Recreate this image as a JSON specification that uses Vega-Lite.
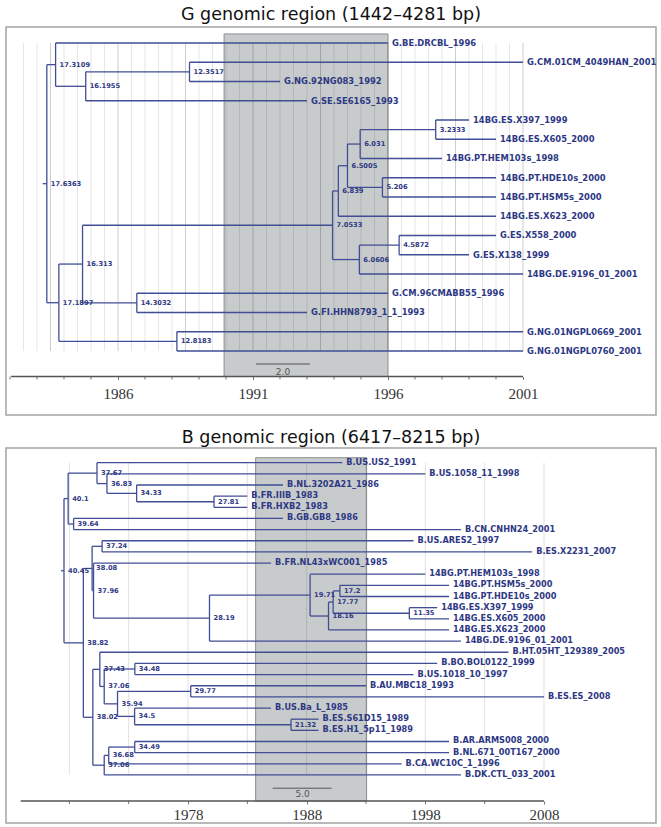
{
"$schema": "https://vega.github.io/schema/vega-lite/v6.json",
"padding": {"left": 5, "top": 4, "right": 0, "bottom": 0},
"spacing": 11,
"background": "white",
"config": {"view": {"stroke": "#a3a3a3", "strokeWidth": 1.5}},
"vconcat": [
{
"width": 650, "height": 388,
"title": {"text": "G genomic region (1442–4281 bp)", "font": "DejaVu Sans", "fontSize": 17.5, "fontWeight": "normal", "color": "#111111", "offset": 4},
"layer": [
{"data": {"values": [{"x": 1989.93, "x2": 1996, "y": -0.47, "y2": 17.325}]},
 "mark": {"type": "rect", "fill": "#c7cbcb", "stroke": "#8c8f8f", "strokeWidth": 1},
 "encoding": {
  "x": {"field": "x", "type": "quantitative", "scale": {"domain": [1981.852, 2005.926], "nice": false, "zero": false},
        "axis": {"values": [1986,1991,1996,2001], "format": "d", "domain": false, "grid": false, "tickSize": 3, "tickColor": "#777777", "labelFont": "Liberation Serif", "labelFontSize": 15, "labelColor": "#333333", "labelPadding": 7, "offset": -38.5, "title": null, "labelOverlap": false, "labelFlush": false}},
  "x2": {"field": "x2"},
  "y": {"field": "y", "type": "quantitative", "scale": {"domain": [-0.831, 19.325], "reverse": true, "nice": false, "zero": false}, "axis": null},
  "y2": {"field": "y2"}
 }},
{"data": {"values": [{"g":1982.5},{"g":1983},{"g":1984},{"g":1984.5},{"g":1985},{"g":1985.5},{"g":1986.5},{"g":1987},{"g":1987.5},{"g":1988},{"g":1989},{"g":1989.5},{"g":1990},{"g":1990.5},{"g":1991.5},{"g":1992},{"g":1992.5},{"g":1993},{"g":1994},{"g":1994.5},{"g":1995},{"g":1995.5},{"g":1996.5},{"g":1997},{"g":1997.5},{"g":1998},{"g":1999},{"g":1999.5},{"g":2000},{"g":2000.5}]},
 "mark": {"type": "rule", "color": "#000000", "opacity": 0.1, "strokeWidth": 1},
 "encoding": {"x": {"field": "g", "type": "quantitative"}, "y": {"datum": 0}, "y2": {"datum": 16}}},
{"data": {"values": [{"g":1983.5},{"g":1986},{"g":1988.5},{"g":1991},{"g":1993.5},{"g":1996},{"g":1998.5},{"g":2001}]},
 "mark": {"type": "rule", "color": "#000000", "opacity": 0.2, "strokeWidth": 1},
 "encoding": {"x": {"field": "g", "type": "quantitative"}, "y": {"datum": 0}, "y2": {"datum": 16}}},
{"data": {"values": [{"g":1982},{"g":1983},{"g":1984},{"g":1985},{"g":1987},{"g":1988},{"g":1989},{"g":1990},{"g":1992},{"g":1993},{"g":1994},{"g":1995},{"g":1997},{"g":1998},{"g":1999},{"g":2000}]},
 "mark": {"type": "rule", "color": "#777777", "strokeWidth": 1},
 "encoding": {"x": {"field": "g", "type": "quantitative"}, "y": {"datum": 17.325}, "y2": {"datum": 17.48}}},
{"data": {"values": [
 {"x":1983.3637,"x2":1983.3637,"y":1.125,"y2":13.4922},
 {"x":1983.6891,"x2":1983.6891,"y":0,"y2":2.25},
 {"x":1984.8045,"x2":1984.8045,"y":1.5,"y2":3},
 {"x":1988.6483,"x2":1988.6483,"y":1,"y2":2},
 {"x":1983.8103,"x2":1983.8103,"y":11.4844,"y2":15.5},
 {"x":1984.687,"x2":1984.687,"y":9.4688,"y2":13.5},
 {"x":1993.9467,"x2":1993.9467,"y":7.6875,"y2":11.25},
 {"x":1994.161,"x2":1994.161,"y":6.375,"y2":9},
 {"x":1994.4995,"x2":1994.4995,"y":5.25,"y2":7.5},
 {"x":1994.969,"x2":1994.969,"y":4.5,"y2":6},
 {"x":1997.7667,"x2":1997.7667,"y":4,"y2":5},
 {"x":1995.794,"x2":1995.794,"y":7,"y2":8},
 {"x":1994.9394,"x2":1994.9394,"y":10.5,"y2":12},
 {"x":1996.4128,"x2":1996.4128,"y":10,"y2":11},
 {"x":1986.6968,"x2":1986.6968,"y":13,"y2":14},
 {"x":1988.1817,"x2":1988.1817,"y":15,"y2":16},
 {"x":1983.21,"x2":1983.3637,"y":7.3086,"y2":7.3086},
 {"x":1983.3637,"x2":1983.6891,"y":1.125,"y2":1.125},
 {"x":1983.3637,"x2":1983.8103,"y":13.4922,"y2":13.4922},
 {"x":1983.6891,"x2":1996,"y":0,"y2":0},
 {"x":1983.6891,"x2":1984.8045,"y":2.25,"y2":2.25},
 {"x":1984.8045,"x2":1988.6483,"y":1.5,"y2":1.5},
 {"x":1984.8045,"x2":1993,"y":3,"y2":3},
 {"x":1988.6483,"x2":2001,"y":1,"y2":1},
 {"x":1988.6483,"x2":1992,"y":2,"y2":2},
 {"x":1983.8103,"x2":1984.687,"y":11.4844,"y2":11.4844},
 {"x":1983.8103,"x2":1988.1817,"y":15.5,"y2":15.5},
 {"x":1984.687,"x2":1993.9467,"y":9.4688,"y2":9.4688},
 {"x":1984.687,"x2":1986.6968,"y":13.5,"y2":13.5},
 {"x":1993.9467,"x2":1994.161,"y":7.6875,"y2":7.6875},
 {"x":1993.9467,"x2":1994.9394,"y":11.25,"y2":11.25},
 {"x":1994.161,"x2":1994.4995,"y":6.375,"y2":6.375},
 {"x":1994.161,"x2":2000,"y":9,"y2":9},
 {"x":1994.4995,"x2":1994.969,"y":5.25,"y2":5.25},
 {"x":1994.4995,"x2":1995.794,"y":7.5,"y2":7.5},
 {"x":1994.969,"x2":1997.7667,"y":4.5,"y2":4.5},
 {"x":1994.969,"x2":1998,"y":6,"y2":6},
 {"x":1997.7667,"x2":1999,"y":4,"y2":4},
 {"x":1997.7667,"x2":2000,"y":5,"y2":5},
 {"x":1995.794,"x2":2000,"y":7,"y2":7},
 {"x":1995.794,"x2":2000,"y":8,"y2":8},
 {"x":1994.9394,"x2":1996.4128,"y":10.5,"y2":10.5},
 {"x":1994.9394,"x2":2001,"y":12,"y2":12},
 {"x":1996.4128,"x2":2000,"y":10,"y2":10},
 {"x":1996.4128,"x2":1999,"y":11,"y2":11},
 {"x":1986.6968,"x2":1996,"y":13,"y2":13},
 {"x":1986.6968,"x2":1993,"y":14,"y2":14},
 {"x":1988.1817,"x2":2001,"y":15,"y2":15},
 {"x":1988.1817,"x2":2001,"y":16,"y2":16}
 ]},
 "mark": {"type": "rule", "color": "#414e96", "strokeWidth": 1.3},
 "encoding": {"x": {"field": "x", "type": "quantitative"}, "x2": {"field": "x2"}, "y": {"field": "y", "type": "quantitative"}, "y2": {"field": "y2"}}},
{"data": {"values": [{"x": 1982.04, "x2": 2001, "y": 17.325}]},
 "mark": {"type": "rule", "color": "#555555", "strokeWidth": 1.5},
 "encoding": {"x": {"field": "x", "type": "quantitative"}, "x2": {"field": "x2"}, "y": {"field": "y", "type": "quantitative"}}},
{"data": {"values": [{"x": 1991.11, "x2": 1993.11, "y": 16.675}]},
 "mark": {"type": "rule", "color": "#555555", "strokeWidth": 1},
 "encoding": {"x": {"field": "x", "type": "quantitative"}, "x2": {"field": "x2"}, "y": {"field": "y", "type": "quantitative"}}},
{"data": {"values": [{"x": 1992.11, "y": 17.09, "t": "2.0"}]},
 "mark": {"type": "text", "font": "DejaVu Sans", "fontSize": 9, "color": "#555555", "baseline": "middle", "align": "center"},
 "encoding": {"x": {"field": "x", "type": "quantitative"}, "y": {"field": "y", "type": "quantitative"}, "text": {"field": "t"}}},
{"data": {"values": [
 {"x":1996,"y":0,"t":"G.BE.DRCBL_1996"},
 {"x":2001,"y":1,"t":"G.CM.01CM_4049HAN_2001"},
 {"x":1992,"y":2,"t":"G.NG.92NG083_1992"},
 {"x":1993,"y":3,"t":"G.SE.SE6165_1993"},
 {"x":1999,"y":4,"t":"14BG.ES.X397_1999"},
 {"x":2000,"y":5,"t":"14BG.ES.X605_2000"},
 {"x":1998,"y":6,"t":"14BG.PT.HEM103s_1998"},
 {"x":2000,"y":7,"t":"14BG.PT.HDE10s_2000"},
 {"x":2000,"y":8,"t":"14BG.PT.HSM5s_2000"},
 {"x":2000,"y":9,"t":"14BG.ES.X623_2000"},
 {"x":2000,"y":10,"t":"G.ES.X558_2000"},
 {"x":1999,"y":11,"t":"G.ES.X138_1999"},
 {"x":2001,"y":12,"t":"14BG.DE.9196_01_2001"},
 {"x":1996,"y":13,"t":"G.CM.96CMABB55_1996"},
 {"x":1993,"y":14,"t":"G.FI.HHN8793_1_1_1993"},
 {"x":2001,"y":15,"t":"G.NG.01NGPL0669_2001"},
 {"x":2001,"y":16,"t":"G.NG.01NGPL0760_2001"}
 ]},
 "mark": {"type": "text", "font": "DejaVu Sans", "fontWeight": "bold", "fontSize": 8.4, "color": "#2e3884", "baseline": "middle", "align": "left", "dx": 4},
 "encoding": {"x": {"field": "x", "type": "quantitative"}, "y": {"field": "y", "type": "quantitative"}, "text": {"field": "t"}}},
{"data": {"values": [
 {"x":1983.3637,"y":7.3086,"t":"17.6363"},
 {"x":1983.6891,"y":1.125,"t":"17.3109"},
 {"x":1984.8045,"y":2.25,"t":"16.1955"},
 {"x":1988.6483,"y":1.5,"t":"12.3517"},
 {"x":1983.8103,"y":13.4922,"t":"17.1897"},
 {"x":1984.687,"y":11.4844,"t":"16.313"},
 {"x":1993.9467,"y":9.4688,"t":"7.0533"},
 {"x":1994.161,"y":7.6875,"t":"6.839"},
 {"x":1994.4995,"y":6.375,"t":"6.5005"},
 {"x":1994.969,"y":5.25,"t":"6.031"},
 {"x":1997.7667,"y":4.5,"t":"3.2333"},
 {"x":1995.794,"y":7.5,"t":"5.206"},
 {"x":1994.9394,"y":11.25,"t":"6.0606"},
 {"x":1996.4128,"y":10.5,"t":"4.5872"},
 {"x":1986.6968,"y":13.5,"t":"14.3032"},
 {"x":1988.1817,"y":15.5,"t":"12.8183"}
 ]},
 "mark": {"type": "text", "font": "DejaVu Sans", "fontWeight": "bold", "fontSize": 6.7, "color": "#2e3884", "baseline": "middle", "align": "left", "dx": 4},
 "encoding": {"x": {"field": "x", "type": "quantitative"}, "y": {"field": "y", "type": "quantitative"}, "text": {"field": "t"}}}
]
},
{
"width": 650, "height": 375,
"title": {"text": "B genomic region (6417–8215 bp)", "font": "DejaVu Sans", "fontSize": 17.5, "fontWeight": "normal", "color": "#111111", "offset": 2},
"layer": [
{"data": {"values": [{"x": 1983.7, "x2": 1993.05, "y": -0.45, "y2": 30.34}]},
 "mark": {"type": "rect", "fill": "#c7cbcb", "stroke": "#8c8f8f", "strokeWidth": 1},
 "encoding": {
  "x": {"field": "x", "type": "quantitative", "scale": {"domain": [1962.663, 2017.437], "nice": false, "zero": false},
        "axis": {"values": [1978,1988,1998,2008], "format": "d", "domain": false, "grid": false, "tickSize": 3, "tickColor": "#777777", "labelFont": "Liberation Serif", "labelFontSize": 15, "labelColor": "#333333", "labelPadding": 3, "offset": -22, "title": null, "labelOverlap": false, "labelFlush": false}},
  "x2": {"field": "x2"},
  "y": {"field": "y", "type": "quantitative", "scale": {"domain": [-1.318, 32.31], "reverse": true, "nice": false, "zero": false}, "axis": null},
  "y2": {"field": "y2"}
 }},
{"data": {"values": [{"g":1968},{"g":1973},{"g":1978},{"g":1983},{"g":1988},{"g":1993},{"g":1998},{"g":2003},{"g":2008}]},
 "mark": {"type": "rule", "color": "#000000", "opacity": 0.12, "strokeWidth": 1},
 "encoding": {"x": {"field": "g", "type": "quantitative"}, "y": {"datum": 0}, "y2": {"datum": 28}}},
{"data": {"values": [{"g":1968},{"g":1973},{"g":1983},{"g":1993},{"g":2003}]},
 "mark": {"type": "rule", "color": "#777777", "strokeWidth": 1},
 "encoding": {"x": {"field": "g", "type": "quantitative"}, "y": {"datum": 30.34}, "y2": {"datum": 30.61}}},
{"data": {"values": [
 {"x":1967.55,"x2":1967.55,"y":3.2188,"y2":16.1563},
 {"x":1967.9,"x2":1967.9,"y":0.9375,"y2":5.5},
 {"x":1970.33,"x2":1970.33,"y":0,"y2":1.875},
 {"x":1971.17,"x2":1971.17,"y":1,"y2":2.75},
 {"x":1973.67,"x2":1973.67,"y":2,"y2":3.5},
 {"x":1980.19,"x2":1980.19,"y":3,"y2":4},
 {"x":1968.36,"x2":1968.36,"y":5,"y2":6},
 {"x":1969.18,"x2":1969.18,"y":9.4844,"y2":22.8281},
 {"x":1969.92,"x2":1969.92,"y":7.5,"y2":11.4688},
 {"x":1970.76,"x2":1970.76,"y":7,"y2":8},
 {"x":1970.04,"x2":1970.04,"y":9,"y2":13.9375},
 {"x":1979.81,"x2":1979.81,"y":11.875,"y2":16},
 {"x":1988.29,"x2":1988.29,"y":10,"y2":13.75},
 {"x":1989.84,"x2":1989.84,"y":12.5,"y2":15},
 {"x":1990.23,"x2":1990.23,"y":11.5,"y2":13.5},
 {"x":1990.8,"x2":1990.8,"y":11,"y2":12},
 {"x":1996.65,"x2":1996.65,"y":13,"y2":14},
 {"x":1969.98,"x2":1969.98,"y":18.5313,"y2":27.125},
 {"x":1970.57,"x2":1970.57,"y":17,"y2":20.0625},
 {"x":1970.94,"x2":1970.94,"y":18.5,"y2":21.625},
 {"x":1973.52,"x2":1973.52,"y":18,"y2":19},
 {"x":1972.06,"x2":1972.06,"y":20.5,"y2":22.75},
 {"x":1978.23,"x2":1978.23,"y":20,"y2":21},
 {"x":1973.5,"x2":1973.5,"y":22,"y2":23.5},
 {"x":1986.68,"x2":1986.68,"y":23,"y2":24},
 {"x":1970.94,"x2":1970.94,"y":26.25,"y2":28},
 {"x":1971.32,"x2":1971.32,"y":25.5,"y2":27},
 {"x":1973.51,"x2":1973.51,"y":25,"y2":26},
 {"x":1967.3,"x2":1967.55,"y":9.6875,"y2":9.6875},
 {"x":1967.55,"x2":1967.9,"y":3.2188,"y2":3.2188},
 {"x":1967.55,"x2":1969.18,"y":16.1563,"y2":16.1563},
 {"x":1967.9,"x2":1970.33,"y":0.9375,"y2":0.9375},
 {"x":1967.9,"x2":1968.36,"y":5.5,"y2":5.5},
 {"x":1970.33,"x2":1991,"y":0,"y2":0},
 {"x":1970.33,"x2":1971.17,"y":1.875,"y2":1.875},
 {"x":1971.17,"x2":1998,"y":1,"y2":1},
 {"x":1971.17,"x2":1973.67,"y":2.75,"y2":2.75},
 {"x":1973.67,"x2":1986,"y":2,"y2":2},
 {"x":1973.67,"x2":1980.19,"y":3.5,"y2":3.5},
 {"x":1980.19,"x2":1983,"y":3,"y2":3},
 {"x":1980.19,"x2":1983,"y":4,"y2":4},
 {"x":1968.36,"x2":1986,"y":5,"y2":5},
 {"x":1968.36,"x2":2001,"y":6,"y2":6},
 {"x":1969.18,"x2":1969.92,"y":9.4844,"y2":9.4844},
 {"x":1969.18,"x2":1969.98,"y":22.8281,"y2":22.8281},
 {"x":1969.92,"x2":1970.76,"y":7.5,"y2":7.5},
 {"x":1969.92,"x2":1970.04,"y":11.4688,"y2":11.4688},
 {"x":1970.76,"x2":1997,"y":7,"y2":7},
 {"x":1970.76,"x2":2007,"y":8,"y2":8},
 {"x":1970.04,"x2":1985,"y":9,"y2":9},
 {"x":1970.04,"x2":1979.81,"y":13.9375,"y2":13.9375},
 {"x":1979.81,"x2":1988.29,"y":11.875,"y2":11.875},
 {"x":1979.81,"x2":2001,"y":16,"y2":16},
 {"x":1988.29,"x2":1998,"y":10,"y2":10},
 {"x":1988.29,"x2":1989.84,"y":13.75,"y2":13.75},
 {"x":1989.84,"x2":1990.23,"y":12.5,"y2":12.5},
 {"x":1989.84,"x2":2000,"y":15,"y2":15},
 {"x":1990.23,"x2":1990.8,"y":11.5,"y2":11.5},
 {"x":1990.23,"x2":1996.65,"y":13.5,"y2":13.5},
 {"x":1990.8,"x2":2000,"y":11,"y2":11},
 {"x":1990.8,"x2":2000,"y":12,"y2":12},
 {"x":1996.65,"x2":1999,"y":13,"y2":13},
 {"x":1996.65,"x2":2000,"y":14,"y2":14},
 {"x":1969.98,"x2":1970.57,"y":18.5313,"y2":18.5313},
 {"x":1969.98,"x2":1970.94,"y":27.125,"y2":27.125},
 {"x":1970.57,"x2":2005,"y":17,"y2":17},
 {"x":1970.57,"x2":1970.94,"y":20.0625,"y2":20.0625},
 {"x":1970.94,"x2":1973.52,"y":18.5,"y2":18.5},
 {"x":1970.94,"x2":1972.06,"y":21.625,"y2":21.625},
 {"x":1973.52,"x2":1999,"y":18,"y2":18},
 {"x":1973.52,"x2":1997,"y":19,"y2":19},
 {"x":1972.06,"x2":1978.23,"y":20.5,"y2":20.5},
 {"x":1972.06,"x2":1973.5,"y":22.75,"y2":22.75},
 {"x":1978.23,"x2":1993,"y":20,"y2":20},
 {"x":1978.23,"x2":2008,"y":21,"y2":21},
 {"x":1973.5,"x2":1985,"y":22,"y2":22},
 {"x":1973.5,"x2":1986.68,"y":23.5,"y2":23.5},
 {"x":1986.68,"x2":1989,"y":23,"y2":23},
 {"x":1986.68,"x2":1989,"y":24,"y2":24},
 {"x":1970.94,"x2":1971.32,"y":26.25,"y2":26.25},
 {"x":1970.94,"x2":2001,"y":28,"y2":28},
 {"x":1971.32,"x2":1973.51,"y":25.5,"y2":25.5},
 {"x":1971.32,"x2":1996,"y":27,"y2":27},
 {"x":1973.51,"x2":2000,"y":25,"y2":25},
 {"x":1973.51,"x2":2000,"y":26,"y2":26}
 ]},
 "mark": {"type": "rule", "color": "#414e96", "strokeWidth": 1.3},
 "encoding": {"x": {"field": "x", "type": "quantitative"}, "x2": {"field": "x2"}, "y": {"field": "y", "type": "quantitative"}, "y2": {"field": "y2"}}},
{"data": {"values": [{"x": 1963.9, "x2": 2008, "y": 30.34}]},
 "mark": {"type": "rule", "color": "#555555", "strokeWidth": 1.5},
 "encoding": {"x": {"field": "x", "type": "quantitative"}, "x2": {"field": "x2"}, "y": {"field": "y", "type": "quantitative"}}},
{"data": {"values": [{"x": 1985.13, "x2": 1990.1, "y": 29.19}]},
 "mark": {"type": "rule", "color": "#555555", "strokeWidth": 1},
 "encoding": {"x": {"field": "x", "type": "quantitative"}, "x2": {"field": "x2"}, "y": {"field": "y", "type": "quantitative"}}},
{"data": {"values": [{"x": 1987.66, "y": 29.75, "t": "5.0"}]},
 "mark": {"type": "text", "font": "DejaVu Sans", "fontSize": 9, "color": "#555555", "baseline": "middle", "align": "center"},
 "encoding": {"x": {"field": "x", "type": "quantitative"}, "y": {"field": "y", "type": "quantitative"}, "text": {"field": "t"}}},
{"data": {"values": [
 {"x":1991,"y":0,"t":"B.US.US2_1991"},
 {"x":1998,"y":1,"t":"B.US.1058_11_1998"},
 {"x":1986,"y":2,"t":"B.NL.3202A21_1986"},
 {"x":1983,"y":3,"t":"B.FR.IIIB_1983"},
 {"x":1983,"y":4,"t":"B.FR.HXB2_1983"},
 {"x":1986,"y":5,"t":"B.GB.GB8_1986"},
 {"x":2001,"y":6,"t":"B.CN.CNHN24_2001"},
 {"x":1997,"y":7,"t":"B.US.ARES2_1997"},
 {"x":2007,"y":8,"t":"B.ES.X2231_2007"},
 {"x":1985,"y":9,"t":"B.FR.NL43xWC001_1985"},
 {"x":1998,"y":10,"t":"14BG.PT.HEM103s_1998"},
 {"x":2000,"y":11,"t":"14BG.PT.HSM5s_2000"},
 {"x":2000,"y":12,"t":"14BG.PT.HDE10s_2000"},
 {"x":1999,"y":13,"t":"14BG.ES.X397_1999"},
 {"x":2000,"y":14,"t":"14BG.ES.X605_2000"},
 {"x":2000,"y":15,"t":"14BG.ES.X623_2000"},
 {"x":2001,"y":16,"t":"14BG.DE.9196_01_2001"},
 {"x":2005,"y":17,"t":"B.HT.05HT_129389_2005"},
 {"x":1999,"y":18,"t":"B.BO.BOL0122_1999"},
 {"x":1997,"y":19,"t":"B.US.1018_10_1997"},
 {"x":1993,"y":20,"t":"B.AU.MBC18_1993"},
 {"x":2008,"y":21,"t":"B.ES.ES_2008"},
 {"x":1985,"y":22,"t":"B.US.Ba_L_1985"},
 {"x":1989,"y":23,"t":"B.ES.S61D15_1989"},
 {"x":1989,"y":24,"t":"B.ES.H1_5p11_1989"},
 {"x":2000,"y":25,"t":"B.AR.ARMS008_2000"},
 {"x":2000,"y":26,"t":"B.NL.671_00T167_2000"},
 {"x":1996,"y":27,"t":"B.CA.WC10C_1_1996"},
 {"x":2001,"y":28,"t":"B.DK.CTL_033_2001"}
 ]},
 "mark": {"type": "text", "font": "DejaVu Sans", "fontWeight": "bold", "fontSize": 8.2, "color": "#2e3884", "baseline": "middle", "align": "left", "dx": 4},
 "encoding": {"x": {"field": "x", "type": "quantitative"}, "y": {"field": "y", "type": "quantitative"}, "text": {"field": "t"}}},
{"data": {"values": [
 {"x":1967.55,"y":9.6875,"t":"40.45"},
 {"x":1967.9,"y":3.2188,"t":"40.1"},
 {"x":1970.33,"y":0.9375,"t":"37.67"},
 {"x":1971.17,"y":1.875,"t":"36.83"},
 {"x":1973.67,"y":2.75,"t":"34.33"},
 {"x":1980.19,"y":3.5,"t":"27.81"},
 {"x":1968.36,"y":5.5,"t":"39.64"},
 {"x":1969.18,"y":16.1563,"t":"38.82"},
 {"x":1969.92,"y":9.4844,"t":"38.08"},
 {"x":1970.76,"y":7.5,"t":"37.24"},
 {"x":1970.04,"y":11.4688,"t":"37.96"},
 {"x":1979.81,"y":13.9375,"t":"28.19"},
 {"x":1988.29,"y":11.875,"t":"19.71"},
 {"x":1989.84,"y":13.75,"t":"18.16"},
 {"x":1990.23,"y":12.5,"t":"17.77"},
 {"x":1990.8,"y":11.5,"t":"17.2"},
 {"x":1996.65,"y":13.5,"t":"11.35"},
 {"x":1969.98,"y":22.8281,"t":"38.02"},
 {"x":1970.57,"y":18.5313,"t":"37.43"},
 {"x":1970.94,"y":20.0625,"t":"37.06"},
 {"x":1973.52,"y":18.5,"t":"34.48"},
 {"x":1972.06,"y":21.625,"t":"35.94"},
 {"x":1978.23,"y":20.5,"t":"29.77"},
 {"x":1973.5,"y":22.75,"t":"34.5"},
 {"x":1986.68,"y":23.5,"t":"21.32"},
 {"x":1970.94,"y":27.125,"t":"37.06"},
 {"x":1971.32,"y":26.25,"t":"36.68"},
 {"x":1973.51,"y":25.5,"t":"34.49"}
 ]},
 "mark": {"type": "text", "font": "DejaVu Sans", "fontWeight": "bold", "fontSize": 6.7, "color": "#2e3884", "baseline": "middle", "align": "left", "dx": 4},
 "encoding": {"x": {"field": "x", "type": "quantitative"}, "y": {"field": "y", "type": "quantitative"}, "text": {"field": "t"}}}
]
}
]
}
